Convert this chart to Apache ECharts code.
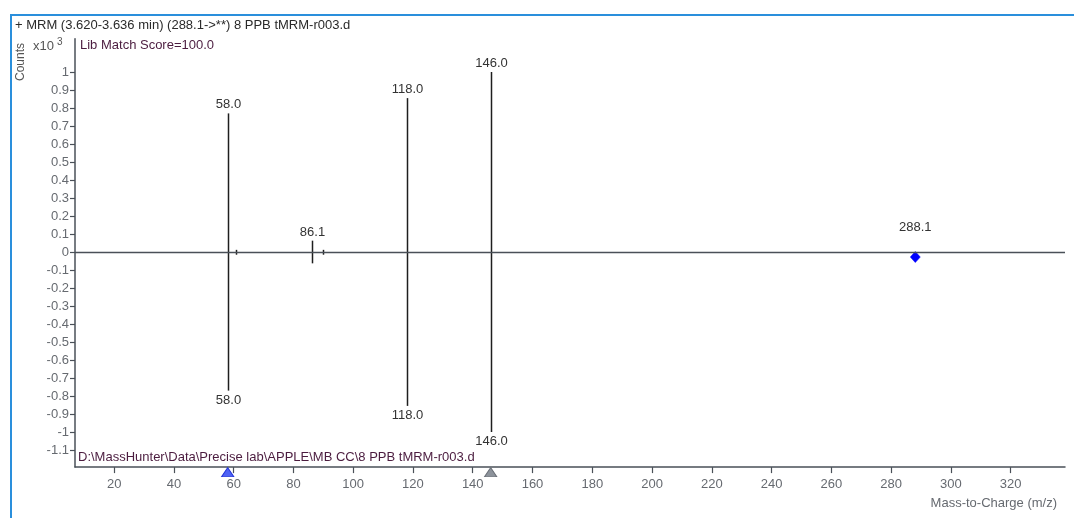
<!DOCTYPE html>
<html>
<head>
<meta charset="utf-8">
<script src="https://cdn.jsdelivr.net/npm/echarts@6/dist/echarts.min.js"></script>
<style>
  html, body { margin: 0; padding: 0; background: #fff; }
  #chart { width: 1074px; height: 518px; }
</style>
</head>
<body>
<div id="chart"></div>
<script>
// Acquired spectrum (upper half), counts x10^3
const sampleMz = [58.0, 60.8, 86.1, 90.0, 118.0, 146.0];
const sampleCounts = [0.77, 0.012, 0.063, 0.012, 0.855, 1.0];
const sampleShowLabel = [true, false, true, false, true, true];

// Library spectrum (mirrored, lower half)
const libraryMz = [58.0, 60.8, 86.1, 90.0, 118.0, 146.0];
const libraryCounts = [-0.77, -0.015, -0.063, -0.015, -0.855, -1.0];
const libraryShowLabel = [true, false, false, false, true, true];

// Precursor ion
const precursorMz = [288.1];
const precursorCounts = [-0.028];

// Transition markers on the m/z axis
const markerMz = [58.0, 146.0];
const markerColors = ['#4f63f5', '#8d939b'];

// Axis ticks
const yTicks = [-1.1, -1.0, -0.9, -0.8, -0.7, -0.6, -0.5, -0.4, -0.3, -0.2, -0.1,
                0, 0.1, 0.2, 0.3, 0.4, 0.5, 0.6, 0.7, 0.8, 0.9, 1.0];
const xTicks = [20, 40, 60, 80, 100, 120, 140, 160, 180, 200, 220, 240, 260, 280, 300, 320];

const titleText = '+ MRM (3.620-3.636 min) (288.1->**) 8 PPB tMRM-r003.d';
const scoreText = 'Lib Match Score=100.0';
const fileText = 'D:\\MassHunter\\Data\\Precise lab\\APPLE\\MB CC\\8 PPB tMRM-r003.d';

const FONT = '"Liberation Sans", Arial, sans-serif';
const AXIS_COLOR = '#4a5058';
const LABEL_COLOR = '#666a70';
const TEXT_COLOR = '#333333';
const PURPLE = '#4b1c3f';

const X_MIN = 6.9, X_MAX = 338.2;
const Y_MIN = -1.195, Y_MAX = 1.185;

function stickData(mz, counts, show) {
  return mz.map((m, i) => [m, counts[i], show[i] ? 1 : 0]);
}

function renderStick(params, api) {
  const x = api.value(0);
  const y = api.value(1);
  const show = api.value(2);
  const p0 = api.coord([x, 0]);
  const p1 = api.coord([x, y]);
  const px = Math.round(p0[0]) + 0.5;
  const children = [{
    type: 'line',
    shape: { x1: px, y1: p0[1], x2: px, y2: p1[1] },
    style: { stroke: '#1e1e1e', lineWidth: 1.5 }
  }];
  if (show) {
    const up = y >= 0;
    children.push({
      type: 'text',
      x: px,
      y: up ? p1[1] - 2 : p1[1] + 3,
      style: {
        text: x.toFixed(1),
        font: '13px ' + FONT,
        fill: TEXT_COLOR,
        align: 'center',
        verticalAlign: up ? 'bottom' : 'top'
      }
    });
  }
  return { type: 'group', children: children };
}

const chart = echarts.init(document.getElementById('chart'), null, { renderer: 'canvas' });

chart.setOption({
  animation: false,
  backgroundColor: '#ffffff',
  grid: { left: 75, right: 9, top: 38.7, bottom: 50.9, containLabel: false },
  xAxis: {
    type: 'value',
    min: X_MIN,
    max: X_MAX,
    axisLine: { show: true, onZero: false, lineStyle: { color: AXIS_COLOR, width: 1.5 } },
    axisTick: { show: true, length: 6, customValues: xTicks, lineStyle: { color: AXIS_COLOR, width: 1.2 } },
    axisLabel: {
      customValues: xTicks,
      margin: 11,
      color: LABEL_COLOR,
      fontFamily: FONT,
      fontSize: 13
    },
    splitLine: { show: false }
  },
  yAxis: {
    type: 'value',
    min: Y_MIN,
    max: Y_MAX,
    axisLine: { show: true, onZero: false, lineStyle: { color: AXIS_COLOR, width: 1.5 } },
    axisTick: { show: true, length: 5, customValues: yTicks, lineStyle: { color: AXIS_COLOR, width: 1.2 } },
    axisLabel: {
      customValues: yTicks,
      margin: 6,
      color: LABEL_COLOR,
      fontFamily: FONT,
      fontSize: 13,
      formatter: v => {
        const r = Math.round(v * 10) / 10;
        return String(r === 0 ? 0 : r);
      }
    },
    splitLine: { show: false }
  },
  series: [
    {
      name: 'sample',
      type: 'custom',
      renderItem: renderStick,
      data: stickData(sampleMz, sampleCounts, sampleShowLabel),
      encode: { x: 0, y: 1 },
      clip: false,
      z: 3
    },
    {
      name: 'library',
      type: 'custom',
      renderItem: renderStick,
      data: stickData(libraryMz, libraryCounts, libraryShowLabel),
      encode: { x: 0, y: 1 },
      clip: false,
      z: 3
    },
    {
      name: 'precursor',
      type: 'scatter',
      symbol: 'diamond',
      symbolSize: [10, 11],
      itemStyle: { color: '#0000ff', opacity: 1, borderColor: '#0000ff', borderWidth: 0.5 },
      data: precursorMz.map((m, i) => [m, precursorCounts[i]]),
      label: {
        show: true,
        position: 'top',
        distance: 17,
        formatter: p => p.value[0].toFixed(1),
        color: TEXT_COLOR,
        fontFamily: FONT,
        fontSize: 13
      },
      markLine: {
        silent: true,
        symbol: 'none',
        label: { show: false },
        lineStyle: { color: AXIS_COLOR, width: 1.3, type: 'solid', opacity: 1 },
        data: [{ yAxis: 0 }]
      },
      z: 4
    },
    {
      name: 'markers',
      type: 'scatter',
      symbol: 'triangle',
      symbolSize: [12, 9],
      symbolOffset: [0, 5],
      clip: false,
      data: markerMz.map((m, i) => ({
        value: [m, Y_MIN],
        itemStyle: { color: markerColors[i], opacity: 1, borderColor: i === 0 ? '#2536d8' : '#6b7078', borderWidth: 1 }
      })),
      z: 5
    }
  ],
  graphic: [
    {
      type: 'rect',
      shape: { x: 11, y: 15, width: 1100, height: 600 },
      style: { fill: 'none', stroke: '#2a8fdc', lineWidth: 2 },
      silent: true
    },
    {
      type: 'text', x: 15, y: 25,
      style: { text: titleText, font: '13px ' + FONT, fill: '#2a2a2a', verticalAlign: 'middle' }
    },
    {
      type: 'text', x: 21, y: 62, rotation: Math.PI / 2,
      style: { text: 'Counts', font: '12px ' + FONT, fill: '#555', align: 'center', verticalAlign: 'middle' }
    },
    {
      type: 'text', x: 33, y: 46,
      style: { text: 'x10', font: '13px ' + FONT, fill: '#555', verticalAlign: 'middle' }
    },
    {
      type: 'text', x: 57, y: 42,
      style: { text: '3', font: '10px ' + FONT, fill: '#555', verticalAlign: 'middle' }
    },
    {
      type: 'text', x: 80, y: 45,
      style: { text: scoreText, font: '13px ' + FONT, fill: PURPLE, verticalAlign: 'middle' }
    },
    {
      type: 'text', x: 78, y: 457,
      style: { text: fileText, font: '13px ' + FONT, fill: PURPLE, verticalAlign: 'middle' }
    },
    {
      type: 'text', x: 1057, y: 503,
      style: { text: 'Mass-to-Charge (m/z)', font: '13px ' + FONT, fill: LABEL_COLOR, align: 'right', verticalAlign: 'middle' }
    }
  ]
});
</script>
</body>
</html>
